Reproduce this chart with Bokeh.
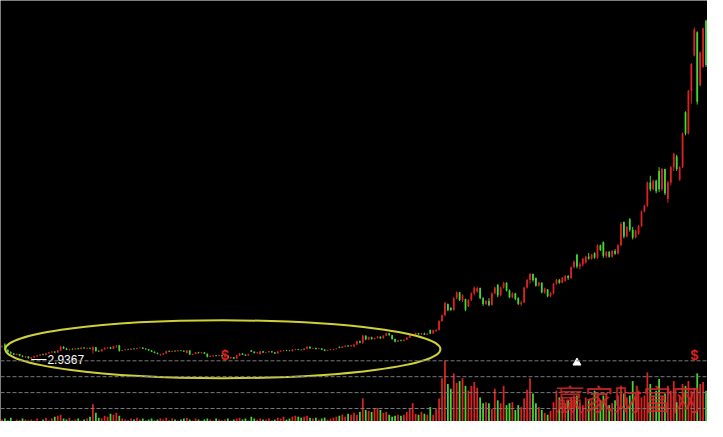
import numpy as np
from bokeh.plotting import figure
from bokeh.models import Range1d, Span, Label, ColumnDataSource
from bokeh.core.properties import value
from bokeh.embed import file_html
from bokeh.resources import INLINE

open_ = [
    4.25,4.50,3.95,3.70,3.55,3.42,3.50,3.30,3.22,3.25,
    3.06,3.15,3.28,3.36,3.45,3.40,3.58,3.68,3.75,3.66,
    3.88,4.25,4.08,3.98,4.02,3.99,4.08,4.02,4.15,4.10,
    4.14,3.90,4.22,3.82,3.80,4.00,4.15,4.18,4.06,4.30,
    4.40,3.85,3.92,3.98,3.95,4.06,4.02,4.12,4.16,4.05,
    4.00,3.88,3.74,3.62,3.40,3.45,3.55,3.80,3.74,3.82,
    3.78,3.88,3.84,3.62,3.88,3.45,3.50,3.68,3.60,3.66,
    3.52,3.22,3.30,3.34,3.30,3.38,3.28,3.32,3.10,3.18,
    3.05,3.35,3.55,3.44,3.36,3.88,3.74,3.60,3.50,3.78,
    3.66,3.69,3.78,3.68,3.56,3.76,3.84,3.88,3.84,3.80,
    3.96,4.00,3.94,3.92,4.06,4.25,4.10,4.14,4.02,4.08,
    3.96,3.85,3.92,3.98,4.02,4.20,4.14,4.28,4.36,4.30,
    4.30,4.48,4.82,4.68,5.40,5.02,5.24,5.06,5.16,5.30,
    5.14,5.40,5.66,5.46,5.06,4.80,4.92,4.86,4.98,5.20,
    5.44,5.50,5.66,5.55,5.64,5.52,6.00,5.64,5.88,6.00,
    6.92,7.52,8.70,8.30,8.06,9.30,9.90,9.10,9.20,8.45,
    9.10,9.80,10.00,10.35,9.30,8.70,9.00,8.60,9.80,10.70,
    9.60,10.40,10.90,10.10,9.40,9.80,9.30,8.70,8.85,10.40,
    11.20,11.80,11.40,10.60,10.90,9.90,10.20,9.50,9.80,10.80,
    11.20,10.90,11.10,11.60,11.40,12.50,13.80,12.60,12.80,13.00,
    13.60,13.40,14.00,13.50,14.80,15.10,13.70,14.10,13.60,14.20,
    13.90,14.80,17.20,15.70,17.50,16.40,15.60,16.00,16.80,18.30,
    18.90,21.30,20.60,21.50,22.50,20.60,22.70,19.60,21.30,22.90,
    24.00,21.60,22.90,28.60,26.40,30.80,34.50,36.90,31.40,33.30,38.10,
]
high = [
    4.40,4.62,4.00,3.78,3.62,3.55,3.52,3.38,3.30,3.28,
    3.20,3.32,3.40,3.50,3.55,3.62,3.72,3.80,3.82,3.92,
    4.35,4.30,4.15,4.05,4.10,4.12,4.15,4.20,4.22,4.18,
    4.20,4.30,4.25,3.90,4.05,4.20,4.22,4.25,4.35,4.42,
    4.45,3.95,4.02,4.05,4.10,4.12,4.15,4.20,4.22,4.12,
    4.02,3.90,3.78,3.66,3.52,3.60,3.85,3.88,3.86,3.90,
    3.92,3.92,3.88,3.92,3.90,3.55,3.72,3.74,3.72,3.70,
    3.55,3.35,3.38,3.40,3.42,3.42,3.36,3.34,3.22,3.20,
    3.40,3.62,3.58,3.48,3.52,3.92,3.78,3.70,3.82,3.82,
    3.72,3.82,3.80,3.70,3.80,3.88,3.92,3.94,3.90,4.00,
    4.05,4.04,3.98,4.10,4.30,4.28,4.18,4.16,4.12,4.10,
    4.02,3.95,4.02,4.05,4.10,4.30,4.32,4.40,4.44,4.45,
    4.52,4.88,4.90,5.50,5.45,5.30,5.30,5.20,5.36,5.34,
    5.45,5.72,5.70,5.48,5.10,4.96,5.00,5.02,5.24,5.48,
    5.55,5.72,5.70,5.70,5.72,5.68,6.04,6.02,6.06,7.00,
    7.60,8.90,8.75,8.35,9.40,10.00,9.95,9.70,9.25,9.20,
    9.90,10.50,10.50,10.40,9.40,9.10,9.30,9.90,10.50,10.75,
    10.50,11.00,10.95,10.20,9.90,9.85,9.40,9.00,10.50,11.30,
    11.90,11.85,11.45,11.00,10.95,10.40,10.25,9.90,10.90,11.30,
    11.30,11.50,11.70,11.70,12.60,13.20,13.90,13.00,13.50,13.70,
    14.00,13.90,14.05,14.90,14.85,15.20,14.20,14.20,14.30,14.40,
    14.90,17.20,17.25,16.80,17.60,16.70,16.40,16.90,18.40,19.00,
    21.40,22.00,21.60,21.60,22.90,22.80,22.75,21.50,23.00,24.40,
    24.20,23.00,26.50,28.70,30.90,33.70,37.40,37.00,34.90,37.40,38.20,
]
low = [
    4.18,3.90,3.62,3.48,3.40,3.38,3.28,3.18,3.10,3.02,
    2.9367,3.10,3.22,3.30,3.35,3.38,3.52,3.60,3.62,3.64,
    3.85,4.02,3.92,3.88,3.95,3.96,3.98,4.00,4.05,4.04,
    4.05,3.55,3.75,3.72,3.76,3.95,4.05,4.02,4.04,4.15,
    3.75,3.80,3.88,3.92,3.92,3.98,4.00,4.08,4.02,3.96,
    3.85,3.70,3.58,3.48,3.32,3.40,3.52,3.70,3.70,3.75,
    3.76,3.80,3.72,3.58,3.40,3.40,3.48,3.55,3.56,3.50,
    3.15,3.18,3.22,3.26,3.28,3.24,3.20,3.05,2.98,3.00,
    3.00,3.30,3.40,3.32,3.34,3.70,3.56,3.56,3.45,3.62,
    3.60,3.66,3.64,3.52,3.54,3.72,3.78,3.80,3.78,3.76,
    3.90,3.90,3.88,3.90,4.02,4.05,4.04,3.98,4.00,3.92,
    3.80,3.82,3.88,3.92,3.98,4.10,4.12,4.22,4.26,4.28,
    4.22,4.44,4.62,4.55,4.95,4.96,5.00,5.02,5.12,5.08,
    5.10,5.36,5.40,5.00,4.72,4.74,4.82,4.84,4.96,5.16,
    5.38,5.46,5.50,5.52,5.48,5.50,5.58,5.62,5.82,5.95,
    6.85,7.45,7.95,8.00,8.02,9.20,9.00,8.90,7.95,8.40,
    9.00,9.60,9.85,9.20,8.50,8.60,8.45,8.55,9.70,9.40,
    9.50,10.30,10.00,9.30,9.30,9.10,8.60,8.50,8.80,10.30,
    10.80,11.00,10.50,10.50,9.80,9.75,9.40,9.40,9.70,10.70,
    10.80,10.85,11.00,11.20,11.30,12.40,12.40,12.30,12.60,12.90,
    13.30,13.30,13.40,13.40,14.20,13.50,13.50,13.50,13.50,13.80,
    13.85,14.70,15.50,15.60,16.20,15.40,15.50,15.90,16.70,18.20,
    18.80,20.40,20.50,20.20,20.30,20.40,20.00,19.20,21.00,22.50,
    22.50,21.50,22.80,26.20,26.30,29.50,34.40,29.40,31.30,33.20,33.30,
]
close = [
    4.32,3.98,3.70,3.55,3.45,3.50,3.32,3.22,3.26,3.08,
    3.15,3.28,3.35,3.45,3.40,3.58,3.68,3.75,3.66,3.88,
    4.25,4.08,3.98,4.02,3.99,4.08,4.02,4.15,4.10,4.14,
    4.08,4.22,3.82,3.78,4.00,4.15,4.18,4.06,4.30,4.38,
    3.85,3.92,3.98,3.95,4.06,4.02,4.12,4.16,4.05,4.00,
    3.88,3.74,3.62,3.52,3.48,3.55,3.80,3.74,3.82,3.78,
    3.88,3.84,3.76,3.88,3.45,3.50,3.68,3.60,3.66,3.55,
    3.22,3.30,3.34,3.30,3.38,3.28,3.32,3.10,3.18,3.05,
    3.35,3.55,3.44,3.36,3.48,3.74,3.60,3.66,3.78,3.66,
    3.69,3.78,3.68,3.56,3.76,3.84,3.88,3.84,3.82,3.96,
    4.00,3.94,3.92,4.06,4.25,4.10,4.14,4.02,4.08,3.96,
    3.85,3.92,3.98,4.02,4.06,4.14,4.28,4.36,4.30,4.42,
    4.48,4.82,4.68,5.40,5.02,5.24,5.06,5.16,5.30,5.14,
    5.40,5.66,5.46,5.06,4.80,4.92,4.86,4.98,5.20,5.44,
    5.50,5.66,5.55,5.64,5.52,5.62,5.64,5.98,6.00,6.92,
    7.52,8.80,8.05,8.06,9.30,9.90,9.10,9.60,8.10,9.10,
    9.80,10.40,10.35,9.30,8.70,9.00,8.60,9.80,10.40,9.60,
    10.40,10.90,10.10,9.40,9.80,9.20,8.70,8.85,10.40,11.20,
    11.80,11.20,10.60,10.90,9.90,10.30,9.50,9.80,10.80,11.20,
    10.90,11.40,11.60,11.40,12.50,13.10,12.60,12.80,13.40,13.60,
    13.40,13.80,13.50,14.80,14.30,13.70,14.10,13.60,14.20,13.90,
    14.80,17.00,15.70,16.70,16.40,15.60,16.30,16.80,18.30,18.90,
    21.30,20.60,21.50,20.40,20.60,22.70,20.20,21.30,22.90,24.30,
    22.70,22.90,26.40,26.40,30.80,33.60,37.20,29.70,34.80,37.30,33.50,
]
volume = [
    0.5,0.6,0.4,0.7,0.3,0.5,0.4,0.6,0.5,0.4,
    0.5,0.4,0.6,0.3,0.5,0.7,0.4,0.6,0.8,0.9,
    1.0,0.6,0.5,0.7,0.4,0.5,0.6,0.4,0.5,0.6,
    0.8,2.1,1.2,0.7,0.6,0.9,0.8,1.1,1.0,1.2,
    0.9,0.6,0.5,0.4,0.6,0.5,0.7,0.5,0.6,0.4,
    0.5,0.6,0.4,0.5,0.6,0.5,0.7,0.4,0.6,0.5,
    0.4,0.5,0.6,0.7,0.5,0.4,0.6,0.5,0.4,0.5,
    0.6,0.5,0.4,0.6,0.5,0.4,0.5,0.6,0.4,0.5,
    0.6,0.7,0.5,0.6,0.4,0.8,0.6,0.5,0.6,0.5,
    0.5,0.6,0.4,0.5,0.7,0.6,0.8,0.5,0.6,0.8,
    0.9,0.8,0.7,0.8,0.9,0.7,0.6,0.7,0.5,0.6,
    0.7,0.5,0.6,0.7,0.8,0.9,1.0,0.8,1.1,1.0,
    1.2,1.0,1.3,2.7,1.5,1.4,1.3,1.6,1.7,1.5,
    1.2,1.3,1.0,0.8,0.9,1.0,0.9,1.0,1.3,1.6,
    2.2,1.1,1.0,1.3,1.1,1.0,1.8,1.0,1.6,2.7,
    4.8,6.6,4.2,3.7,5.3,4.3,4.5,4.8,4.0,3.5,
    4.0,4.4,3.8,2.8,2.2,2.3,2.2,1.6,3.7,2.5,
    2.2,4.0,2.0,2.2,2.3,1.5,2.0,1.8,2.7,3.6,
    4.8,3.2,2.2,1.8,1.5,1.2,1.0,1.4,2.3,3.5,
    2.8,2.8,2.2,2.5,2.8,3.0,3.0,2.2,2.0,2.8,
    2.6,2.5,3.5,3.0,2.5,3.0,3.2,2.0,2.2,2.5,
    3.0,4.0,3.2,2.8,3.0,4.5,2.8,3.5,2.8,3.0,
    5.4,4.2,3.0,3.5,4.7,3.0,3.2,4.0,3.5,4.5,
    2.3,3.0,4.2,4.0,4.5,3.5,3.8,5.3,4.2,4.4,3.5,
]
vol_grid = [1.65, 3.3, 4.95, 6.6]
marker_days = [76, 236]
marker_price = 3.4
triangle_day = 196
triangle_price = 2.6

UP = "#dd2222"
DOWN = "#44d833"

n = min(len(open_), len(high), len(low), len(close), len(volume))
o = np.array(open_[:n]); h = np.array(high[:n]); l = np.array(low[:n]); c = np.array(close[:n])
v = np.array(volume[:n])
idx = np.arange(n)
colors = [UP if c[i] >= o[i] else DOWN for i in range(n)]
src = ColumnDataSource(dict(x=idx, o=o, h=h, l=l, c=c, top=np.maximum(o, c), bot=np.minimum(o, c),
                            v=v, color=colors))

p = figure(width=707, height=421, output_backend="svg", toolbar_location=None,
           x_range=Range1d(-0.5, n - 0.5), y_range=Range1d(-3.5, 40.2),
           x_axis_type=None, y_axis_type=None,
           background_fill_color="black", border_fill_color="black",
           outline_line_color=None, min_border=0, min_border_left=0, min_border_right=0,
           min_border_top=0, min_border_bottom=0)
p.extra_y_ranges = {"vol": Range1d(0.3, 44.0)}

# volume bars
p.vbar(x="x", top="v", bottom=0, width=0.6, fill_color="color", line_color=None,
       source=src, y_range_name="vol")
for g in vol_grid:
    p.add_layout(Span(location=g, dimension="width", y_range_name="vol",
                      line_color="#7a7a7a", line_width=1, line_dash="4 2"))

# candles
p.segment(x0="x", y0="l", x1="x", y1="h", line_color="color", line_width=1, source=src)
p.vbar(x="x", top="top", bottom="bot", width=0.6, fill_color="color", line_color=None, source=src)

# ellipse annotation
p.ellipse(x=[75.3], y=[4.0], width=[148.3], height=[6.0], fill_color=None,
          line_color="#cfcf3a", line_width=2)

# lowest-price label
i_low = int(np.argmin(l))
p.segment(x0=[i_low], y0=[l[i_low]], x1=[i_low + 5.2], y1=[l[i_low]], line_color="white", line_width=1)
p.text(x=[i_low + 5.5], y=[l[i_low]], text=[f"{l[i_low]:.4f}"], text_color="white",
       text_font=value("Liberation Sans"), text_font_size="12px",
       text_align="left", text_baseline="alphabetic")

# $ markers
p.text(x=marker_days, y=[marker_price] * len(marker_days), text=["$"] * len(marker_days),
       text_color=UP, text_font=value("Liberation Sans"), text_font_size="14px",
       text_font_style="bold", text_align="center", text_baseline="middle")

# white triangle
p.scatter(x=[triangle_day], y=[triangle_price], marker="triangle", size=8,
          fill_color="white", line_color="white")

# watermark
p.add_layout(Label(x=555, y=24, x_units="screen", y_units="screen", text="赢家财富网",
                   text_font="Noto Sans CJK SC", text_font_size="29px",
                   text_color="#d42a2a", text_alpha=0.85, text_baseline="middle"))

open("out.html", "w").write(file_html(p, INLINE))
